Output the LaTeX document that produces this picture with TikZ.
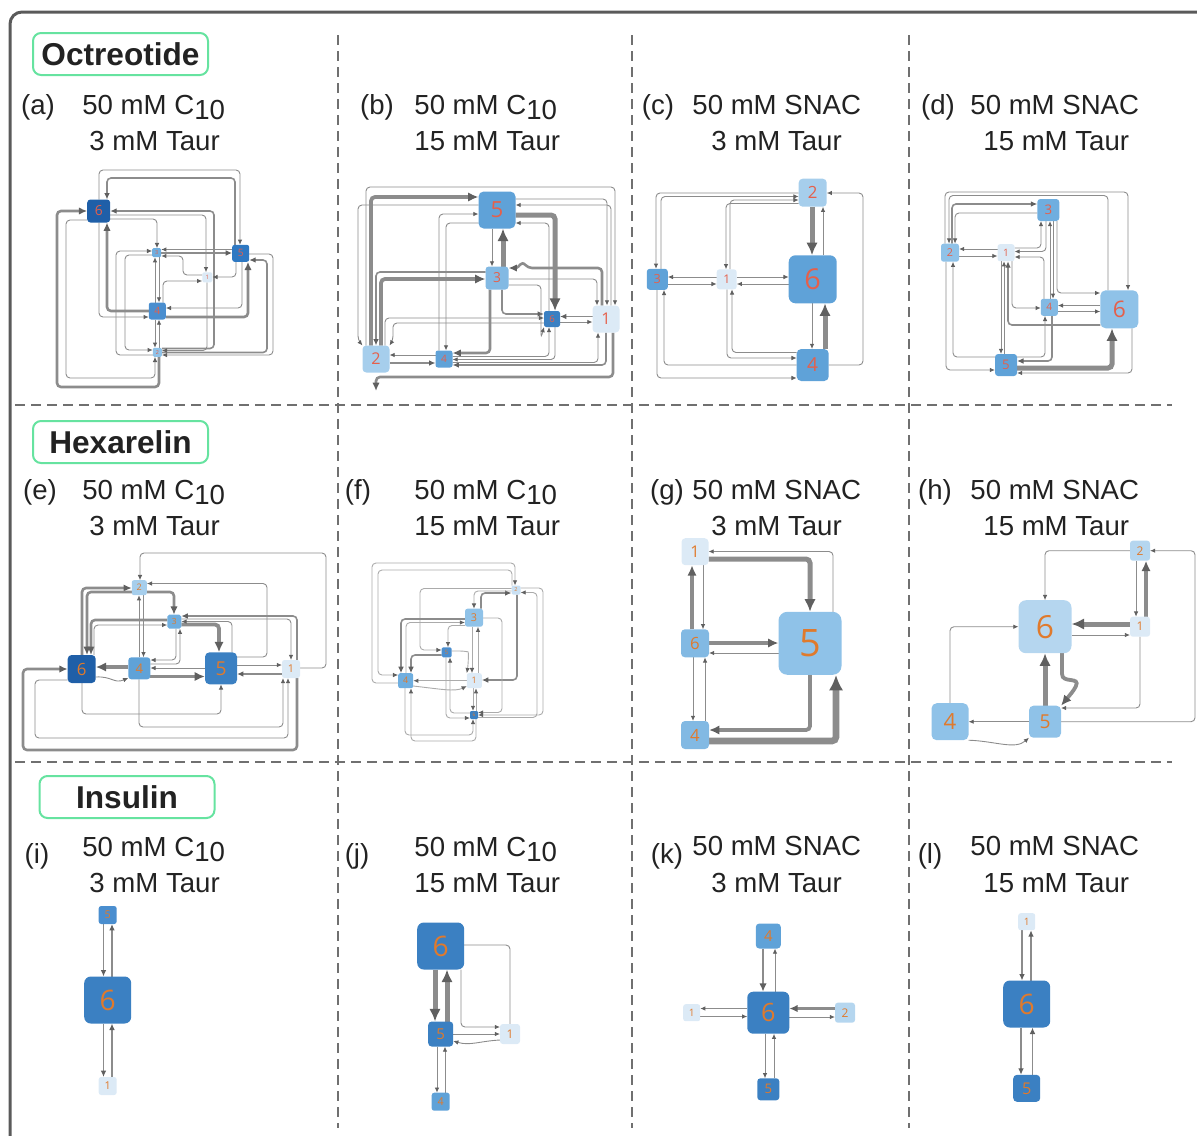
\documentclass[tikz,border=0pt]{standalone}
\usepackage{fontspec}
\setmainfont{Liberation Sans}
\newfontfamily\numfont{Open Sans}
\usetikzlibrary{arrows.meta,backgrounds}

% palette
\definecolor{framec}{HTML}{5A5A5A}
\definecolor{dashc}{HTML}{707070}
\definecolor{titlec}{HTML}{66E3A0}
\definecolor{txtc}{HTML}{222222}
\definecolor{linkc}{HTML}{8C8C8C}
\definecolor{linkl}{HTML}{ABABAB}
\definecolor{tipc}{HTML}{606060}
\definecolor{numa}{HTML}{E5604B}
\definecolor{numb}{HTML}{E07A2C}
\definecolor{bA}{HTML}{1F5FA8}
\definecolor{bB}{HTML}{2E78C2}
\definecolor{bC}{HTML}{3B80C2}
\definecolor{bD}{HTML}{4A8ECF}
\definecolor{bE}{HTML}{5FA2D8}
\definecolor{bF}{HTML}{6FAEDF}
\definecolor{bG}{HTML}{82B9E3}
\definecolor{bH}{HTML}{8FC2E8}
\definecolor{bI}{HTML}{A6CEEC}
\definecolor{bJ}{HTML}{B5D6EF}
\definecolor{bK}{HTML}{C9E0F3}
\definecolor{bL}{HTML}{DCEAF6}

\tikzset{
  tipshape/.style={-{Latex[length=1.8pt 1.8, width=1.5pt 1.7, color=tipc]}},
  ln/.style={draw=linkc, line width=#1, rounded corners=2, tipshape},
  ln1/.style={ln=0.45pt}, ln2/.style={ln=0.8pt}, ln3/.style={ln=1.3pt},
  ln4/.style={ln=1.9pt}, ln5/.style={ln=2.5pt}, ln6/.style={ln=3.3pt},
  lnf/.style={ln=0.45pt, draw=linkl},
  netbox/.style={inner sep=0pt, outer sep=0pt},
  pl/.style={font=\fontsize{13.8pt}{16pt}\selectfont, text=txtc, inner sep=0pt},
  ttl/.style={draw=titlec, line width=1pt, rounded corners=4pt, fill=white,
    minimum width=87.5pt, minimum height=21pt, text=txtc,
    font=\fontsize{15.8pt}{18pt}\selectfont\bfseries},
  dsh/.style={draw=dashc, line width=0.7pt, dash pattern=on 5pt off 3pt},
}

% state node: name, x, y, size (px), fill, digit colour, label
\newcommand\netnode[7]{%
  \pgfmathsetmacro\nnfs{#4*0.3}%
  \pgfmathsetmacro\nnrc{max(0.6,#4*0.07)}%
  \node[netbox, minimum size=#4*0.5pt, rounded corners=\nnrc pt, fill=#5, text=#6,
    font=\numfont\fontsize{\nnfs pt}{\nnfs pt}\selectfont] (#1) at (#2,#3) {#7};}

\begin{document}
\begin{tikzpicture}[x=0.5pt,y=-0.5pt]
\useasboundingbox (0,0) rectangle (1197,1135);

% ---------- frame and separators ----------
\begin{pgfonlayer}{background}
\draw[framec, line width=1.5pt, rounded corners=6pt] (10,1140) -- (10,12) -- (1197,12);
\draw[dsh] (338,35) -- (338,1128);
\draw[dsh] (632,35) -- (632,1128);
\draw[dsh] (909,35) -- (909,1128);
\draw[dsh] (15,405) -- (1172,405);
\draw[dsh] (15,762) -- (1172,762);
\end{pgfonlayer}

% ---------- peptide titles ----------
\node[ttl] (tOct) at (120.5,54) {Octreotide};
\node[ttl] (tHex) at (120.5,442) {Hexarelin};
\node[ttl] (tIns) at (127,797) {Insulin};

% ---------- condition labels ----------
\node[pl, anchor=base] (pa) at (38,114) {(a)};
\node[pl, anchor=base west] (pa1) at (82,114) {50 mM C\raisebox{-2.5pt}{10}};
\node[pl, anchor=base west] (pa2) at (89,150) {3 mM Taur};
\node[pl, anchor=base] (pb) at (377,114) {(b)};
\node[pl, anchor=base west] (pb1) at (414,114) {50 mM C\raisebox{-2.5pt}{10}};
\node[pl, anchor=base west] (pb2) at (414,150) {15 mM Taur};
\node[pl, anchor=base] (pc) at (658,114) {(c)};
\node[pl, anchor=base west] (pc1) at (692,114) {50 mM SNAC};
\node[pl, anchor=base west] (pc2) at (711,150) {3 mM Taur};
\node[pl, anchor=base] (pd) at (938,114) {(d)};
\node[pl, anchor=base west] (pd1) at (970,114) {50 mM SNAC};
\node[pl, anchor=base west] (pd2) at (983,150) {15 mM Taur};

\node[pl, anchor=base] (pe) at (40,499) {(e)};
\node[pl, anchor=base west] (pe1) at (82,499) {50 mM C\raisebox{-2.5pt}{10}};
\node[pl, anchor=base west] (pe2) at (89,535) {3 mM Taur};
\node[pl, anchor=base] (pf) at (358,499) {(f)};
\node[pl, anchor=base west] (pf1) at (414,499) {50 mM C\raisebox{-2.5pt}{10}};
\node[pl, anchor=base west] (pf2) at (414,535) {15 mM Taur};
\node[pl, anchor=base] (pg) at (667,499) {(g)};
\node[pl, anchor=base west] (pg1) at (692,499) {50 mM SNAC};
\node[pl, anchor=base west] (pg2) at (711,535) {3 mM Taur};
\node[pl, anchor=base] (ph) at (935,499) {(h)};
\node[pl, anchor=base west] (ph1) at (970,499) {50 mM SNAC};
\node[pl, anchor=base west] (ph2) at (983,535) {15 mM Taur};

\node[pl, anchor=base] (pi) at (37,863) {(i)};
\node[pl, anchor=base west] (pi1) at (82,856) {50 mM C\raisebox{-2.5pt}{10}};
\node[pl, anchor=base west] (pi2) at (89,892) {3 mM Taur};
\node[pl, anchor=base] (pj) at (357,863) {(j)};
\node[pl, anchor=base west] (pj1) at (414,856) {50 mM C\raisebox{-2.5pt}{10}};
\node[pl, anchor=base west] (pj2) at (414,892) {15 mM Taur};
\node[pl, anchor=base] (pk) at (667,863) {(k)};
\node[pl, anchor=base west] (pk1) at (692,855) {50 mM SNAC};
\node[pl, anchor=base west] (pk2) at (711,892) {3 mM Taur};
\node[pl, anchor=base] (pl) at (930,863) {(l)};
\node[pl, anchor=base west] (pl1) at (970,855) {50 mM SNAC};
\node[pl, anchor=base west] (pl2) at (983,892) {15 mM Taur};

% ---------- states ----------
% (a)
\netnode{a6}{98.7}{211}{23}{bA}{numa}{6}
\netnode{a5}{240.7}{253.3}{17}{bB}{numa}{5}
\netnode{a3}{156.7}{252.7}{9}{bF}{numa}{3}
\netnode{a1}{207.3}{277.3}{10}{bL}{numa}{1}
\netnode{a4}{157.3}{311}{17}{bD}{numa}{4}
\netnode{a2}{157.3}{352.3}{9}{bH}{numa}{2}
% (b)
\netnode{b5}{497}{210}{37}{bE}{numa}{5}
\netnode{b3}{497}{278}{23}{bG}{numa}{3}
\netnode{b6}{552}{319}{16}{bC}{numa}{6}
\netnode{b1}{606}{319}{27}{bL}{numa}{1}
\netnode{b2}{376}{359}{27}{bI}{numa}{2}
\netnode{b4}{444}{359}{17}{bE}{numa}{4}
% (c)
\netnode{c2}{812.7}{192.7}{28}{bI}{numa}{2}
\netnode{c6}{812.7}{279.3}{48}{bE}{numa}{6}
\netnode{c3}{657.3}{279.3}{21}{bE}{numa}{3}
\netnode{c1}{726.7}{279.3}{20}{bL}{numa}{1}
\netnode{c4}{812.7}{365}{32}{bE}{numa}{4}
% (d)
\netnode{d3}{1048.3}{210}{22}{bF}{numa}{3}
\netnode{d2}{950}{252.7}{18}{bH}{numa}{2}
\netnode{d1}{1006}{252.7}{17}{bL}{numa}{1}
\netnode{d4}{1049.3}{307.3}{17}{bG}{numa}{4}
\netnode{d6}{1119.3}{309.3}{38}{bH}{numa}{6}
\netnode{d5}{1006}{365}{22}{bE}{numa}{5}
% (e)
\netnode{e2}{139.3}{587.7}{15}{bI}{numb}{2}
\netnode{e3}{174.3}{621.7}{14}{bF}{numb}{3}
\netnode{e6}{81.7}{669}{28}{bA}{numb}{6}
\netnode{e4}{139.3}{668.3}{22}{bE}{numb}{4}
\netnode{e5}{221}{668.3}{32}{bC}{numb}{5}
\netnode{e1}{291}{669}{18}{bL}{numb}{1}
% (f)
\netnode{f2}{516}{590}{9}{bK}{numb}{2}
\netnode{f3}{474}{617.7}{18}{bH}{numb}{3}
\netnode{f5}{446.7}{652.3}{10}{bD}{numb}{5}
\netnode{f4}{405.7}{680.7}{15}{bF}{numb}{4}
\netnode{f1}{474.3}{680.7}{15}{bL}{numb}{1}
\netnode{f6}{474}{715}{8}{bC}{numb}{6}
% (g)
\netnode{g1}{695}{551.7}{27}{bL}{numb}{1}
\netnode{g6}{695}{643.3}{28}{bG}{numb}{6}
\netnode{g5}{810}{643.3}{63}{bH}{numb}{5}
\netnode{g4}{695}{735}{28}{bG}{numb}{4}
% (h)
\netnode{h2}{1140}{550.7}{20}{bJ}{numb}{2}
\netnode{h6}{1045}{626.7}{53}{bJ}{numb}{6}
\netnode{h1}{1140}{626.7}{20}{bL}{numb}{1}
\netnode{h4}{950}{721.7}{37}{bH}{numb}{4}
\netnode{h5}{1045}{721.7}{32}{bH}{numb}{5}
% (i)
\netnode{i5}{107.7}{915}{18}{bD}{numb}{5}
\netnode{i6}{107.7}{1000}{47}{bC}{numb}{6}
\netnode{i1}{107.7}{1086}{18}{bL}{numb}{1}
% (j)
\netnode{j6}{440.7}{946}{47}{bC}{numb}{6}
\netnode{j5}{440.7}{1034}{25}{bC}{numb}{5}
\netnode{j1}{510}{1034}{20}{bL}{numb}{1}
\netnode{j4}{440.7}{1101.7}{18}{bE}{numb}{4}
% (k)
\netnode{k4}{768.3}{936}{25}{bE}{numb}{4}
\netnode{k6}{768.3}{1012.7}{42}{bC}{numb}{6}
\netnode{k1}{691.7}{1012.7}{17}{bL}{numb}{1}
\netnode{k2}{845}{1012.7}{20}{bJ}{numb}{2}
\netnode{k5}{768.3}{1089.3}{22}{bC}{numb}{5}
% (l)
\netnode{l1}{1026.7}{921.7}{17}{bL}{numb}{1}
\netnode{l6}{1026.7}{1004}{47}{bC}{numb}{6}
\netnode{l5}{1026.7}{1088.3}{27}{bC}{numb}{5}

\coordinate (bloose) at (376,391);

% ---------- transitions ----------
\begin{pgfonlayer}{background}
% (a)
\draw[ln1] (a6.north -| 99,0) -- (99,170) -- (240,170) -- (a5.north -| 240,0);
\draw[ln2] (a5.north -| 235,0) -- (235,178) -- (107,178) -- (a6.north -| 107,0);
\draw[ln2] (a2.east |- 0,348.5) -- (214,348.5) -- (214,211) -- (a6.east |- 0,211);
\draw[ln1] (a6.east |- 0,219) -- (157,219) -- (a3.north -| 157,0);
\draw[ln1] (a6.east |- 0,215) -- (206,215) -- (a1.north -| 206,0);
\draw[ln3] (a4.west |- 0,311) -- (107,311) -- (a6.south -| 107,0);
\draw[ln1] (a6.south -| 99,0) -- (99,317) -- (a4.west |- 0,317);
\draw[ln1] (a6.west |- 0,220) -- (66,220) -- (66,378) -- (155,378) -- (a2.south -| 155,0);
\draw[ln3] (a2.south -| 159,0) -- (159,387) -- (57,387) -- (57,211) -- (a6.west |- 0,211);
\draw[ln2] (a3.east |- 0,253) -- (a5.west |- 0,253);
\draw[ln1] (a5.west |- 0,249.5) -- (a3.east |- 0,249.5);
\draw[ln1] (a1.west |- 0,275) -- (183,275) -- (183,256) -- (a3.east |- 0,256);
\draw[ln1] (a5.south -| 236,0) -- (236,277) -- (a1.east |- 0,277);
\draw[ln1] (a4.north -| 163,0) -- (163,281) -- (a1.west |- 0,281);
\draw[ln3] (a4.east |- 0,317) -- (248,317) -- (a5.south -| 248,0);
\draw[ln1] (a5.south -| 242,0) -- (242,308) -- (a4.east |- 0,308);
\draw[ln1] (a4.north -| 155,0) -- (a3.south -| 155,0);
\draw[ln1] (a3.south -| 159,0) -- (a4.north -| 159,0);
\draw[ln1] (a4.south -| 155,0) -- (a2.north -| 155,0);
\draw[ln1] (a2.north -| 159,0) -- (a4.south -| 159,0);
\draw[ln1] (a2.west |- 0,355) -- (116,355) -- (116,251) -- (a3.west |- 0,251);
\draw[ln1] (a3.west |- 0,255) -- (125,255) -- (125,350) -- (a2.west |- 0,350);
\draw[ln1] (a5.east |- 0,254) -- (273,254) -- (273,355) -- (a2.east |- 0,355);
\draw[ln2] (a2.east |- 0,352.5) -- (267,352.5) -- (267,260) -- (a5.east |- 0,260);
\draw[ln1] (a1.south -| 207,0) -- (207,350.5) -- (a2.east |- 0,350.5);

% (b)
\draw[ln1] (b2.north -| 366,0) -- (366,187) -- (615,187) -- (b1.north -| 615,0);
\draw[ln4] (b2.north -| 371,0) -- (371,197) -- (b5.west |- 0,197);
\draw[ln1] (b5.west |- 0,205) -- (358,205) -- (358,340) -- (b2.north west);
\draw[ln1] (b5.east |- 0,199) -- (607,199) -- (b1.north -| 607,0);
\draw[ln1] (b1.north -| 611,0) -- (611,205) -- (b5.east |- 0,205);
\draw[ln5] (b5.east |- 0,215) -- (555,215) -- (b6.north -| 555,0);
\draw[ln1] (b6.north -| 549,0) -- (549,223) -- (b5.east |- 0,223);
\draw[ln1] (b4.north -| 439,0) -- (439,214) -- (b5.west |- 0,214);
\draw[ln1] (b5.west |- 0,223) -- (446,223) -- (b4.north -| 446,0);
\draw[ln1] (b5.south -| 492,0) -- (b3.north -| 492,0);
\draw[ln5] (b3.north -| 503,0) -- (b5.south -| 503,0);
\draw[ln2] (b3.west |- 0,272) -- (376,272) -- (b2.north -| 376,0);
\draw[ln4] (b2.north -| 381,0) -- (381,279) -- (b3.west |- 0,279);
\draw[ln3] (b3.south -| 490,0) -- (490,353) -- (b4.east |- 0,353);
\draw[ln2] (b3.south -| 502,0) -- (502,314) -- (b6.west |- 0,314);
\draw[ln1] (b3.east |- 0,285) -- (541,285) -- (541,338) -- (b6.south west);
\draw[ln1] (b4.east |- 0,356.5) -- (549,356.5) -- (b6.south -| 549,0);
\draw[ln1] (b6.south -| 555,0) -- (555,359.5) -- (b4.east |- 0,359.5);
\draw[ln2] (b1.south -| 606,0) -- (606,365) -- (b4.east |- 0,365);
\draw[ln1] (b4.east |- 0,362.5) -- (598,362.5) -- (b1.south -| 598,0);
\draw[ln1] (b3.east |- 0,279) -- (597,279) -- (b1.north -| 597,0);
\draw[ln3] (b1.north -| 602,0) -- (602,268) -- (528,268) .. controls (521,260) and (519,268) .. (b3.east |- 0,268);
\draw[ln2] (b1.west |- 0,316.5) -- (b6.east |- 0,316.5);
\draw[ln1] (b6.east |- 0,322) -- (b1.west |- 0,322);
\draw[ln1] (b2.north -| 385,0) -- (385,318) -- (b6.west |- 0,318);
\draw[ln1] (b6.west |- 0,323) -- (393,323) -- (393,340) -- (b2.north east);
\draw[ln1] (b4.west |- 0,355) -- (b2.east |- 0,355);
\draw[ln2] (b2.east |- 0,363) -- (b4.west |- 0,363);
\draw[ln3] (b1.south -| 613,0) -- (613,377) -- (376,377) -- (bloose);

% (c)
\draw[ln5] (c2.south -| 812,0) -- (c6.north -| 812,0);
\draw[ln1] (c6.north -| 823,0) -- (c2.south -| 823,0);
\draw[ln1] (c6.south -| 812,0) -- (c4.north -| 812,0);
\draw[ln5] (c4.north -| 825,0) -- (c6.south -| 825,0);
\draw[ln1] (c4.east |- 0,365) -- (863,365) -- (863,193) -- (c2.east |- 0,193);
\draw[ln1] (c2.west |- 0,193) -- (656,193) -- (c3.north -| 656,0);
\draw[ln1] (c3.north -| 661,0) -- (661,196.5) -- (c2.west |- 0,196.5);
\draw[ln1] (c1.north -| 730,0) -- (730,200) -- (c2.west |- 0,200);
\draw[ln1] (c2.west |- 0,203.5) -- (726,203.5) -- (c1.north -| 726,0);
\draw[ln1] (c1.west |- 0,277) -- (c3.east |- 0,277);
\draw[ln1] (c3.east |- 0,284) -- (c1.west |- 0,284);
\draw[ln1] (c1.east |- 0,277) -- (c6.west |- 0,277);
\draw[ln1] (c6.west |- 0,284) -- (c1.east |- 0,284);
\draw[ln1] (c4.west |- 0,352.5) -- (732,352.5) -- (c1.south -| 732,0);
\draw[ln1] (c1.south -| 727,0) -- (727,358) -- (c4.west |- 0,358);
\draw[ln1] (c4.west |- 0,365) -- (664,365) -- (c3.south -| 664,0);
\draw[ln1] (c3.south -| 657,0) -- (657,378) -- (c4.west |- 0,378);

% (d)
\draw[ln1] (d2.north -| 945,0) -- (945,192) -- (1128,192) -- (d6.north -| 1128,0);
\draw[ln1] (d6.north -| 1108,0) -- (1108,195.5) -- (949,195.5) -- (d2.north -| 949,0);
\draw[ln2] (d2.north -| 952,0) -- (952,204) -- (d3.west |- 0,204);
\draw[ln1] (d3.west |- 0,213) -- (955,213) -- (d2.north -| 955,0);
\draw[ln1] (d1.west |- 0,249) -- (d2.east |- 0,249);
\draw[ln1] (d2.east |- 0,256) -- (d1.west |- 0,256);
\draw[ln1] (d1.east |- 0,248) -- (1041,248) -- (d3.south -| 1041,0);
\draw[ln1] (d3.south -| 1046,0) -- (1046,251.5) -- (d1.east |- 0,251.5);
\draw[ln1] (d4.north -| 1044,0) -- (1044,257) -- (d1.east |- 0,257);
\draw[ln1] (d3.south -| 1053,0) -- (d4.north -| 1053,0);
\draw[ln1] (d4.north -| 1050,0) -- (d3.south -| 1050,0);
\draw[ln1] (d3.south -| 1057,0) -- (1057,293) -- (d6.west |- 0,293);
\draw[ln1] (d6.west |- 0,305.5) -- (d4.east |- 0,305.5);
\draw[ln1] (d4.east |- 0,311.5) -- (d6.west |- 0,311.5);
\draw[ln1] (d1.south -| 1012,0) -- (1012,308) -- (d4.west |- 0,308);
\draw[ln2] (d6.west |- 0,325) -- (1008,325) -- (d1.south -| 1008,0);
\draw[ln1] (d1.south -| 1001,0) -- (d5.north -| 1001,0);
\draw[ln1] (d5.north -| 1004,0) -- (d1.south -| 1004,0);
\draw[ln1] (d5.west |- 0,357) -- (953,357) -- (d2.south -| 953,0);
\draw[ln1] (d2.south -| 946,0) -- (946,370) -- (d5.west |- 0,370);
\draw[ln1] (d5.east |- 0,357) -- (1045,357) -- (d4.south -| 1045,0);
\draw[ln2] (d4.south -| 1052,0) -- (1052,361) -- (d5.east |- 0,361);
\draw[ln5] (d5.east |- 0,368) -- (1112,368) -- (d6.south -| 1112,0);
\draw[ln1] (d6.south -| 1132,0) -- (1132,373) -- (d5.east |- 0,373);

% (e)
\draw[ln1] (e1.east |- 0,668) -- (326,668) -- (326,553) -- (140,553) -- (e2.north -| 140,0);
\draw[ln1] (e5.east |- 0,657) -- (267,657) -- (267,583.5) -- (e2.east |- 0,583.5);
\draw[ln3] (e2.east |- 0,592) -- (174,592) -- (e3.north -| 174,0);
\draw[ln1] (e3.south -| 176,0) -- (176,660) -- (e4.east |- 0,660);
\draw[ln1] (e4.east |- 0,664) -- (180,664) -- (e3.south -| 180,0);
\draw[ln3] (e6.north -| 82,0) -- (82,588) -- (e2.west |- 0,588);
\draw[ln3] (e2.west |- 0,592) -- (87,592) -- (e6.north -| 87,0);
\draw[ln3] (e3.west |- 0,620) -- (91,620) -- (e6.north -| 91,0);
\draw[ln1] (e6.north -| 94,0) -- (94,625) -- (e3.west |- 0,625);
\draw[ln1] (e2.south -| 143.5,0) -- (e4.north -| 143.5,0);
\draw[ln1] (e4.north -| 139,0) -- (e2.south -| 139,0);
\draw[ln4] (e3.east |- 0,624.5) -- (219,624.5) -- (e5.north -| 219,0);
\draw[ln1] (e5.north -| 232,0) -- (232,621.5) -- (e3.east |- 0,621.5);
\draw[ln2] (e1.north -| 297,0) -- (297,616) -- (e3.east |- 0,616);
\draw[ln1] (e3.east |- 0,619) -- (291,619) -- (e1.north -| 291,0);
\draw[ln4] (e4.east |- 0,676.5) -- (e5.west |- 0,676.5);
\draw[ln1] (e5.west |- 0,668) -- (e4.east |- 0,668);
\draw[ln4] (e4.west |- 0,667) -- (e6.east |- 0,667);
\draw[ln1] (e6.east |- 0,677) .. controls (112,676) and (114,684) .. (e4.west |- 0,678);
\draw[ln1] (e5.east |- 0,665) -- (e1.west |- 0,665);
\draw[ln2] (e1.west |- 0,674) -- (e5.east |- 0,674);
\draw[ln1] (e6.south -| 82,0) -- (82,714) -- (221,714) -- (e5.south -| 221,0);
\draw[ln1] (e4.south -| 139,0) -- (139,727) -- (283,727) -- (e1.south -| 283,0);
\draw[ln1] (e6.west |- 0,680) -- (35,680) -- (35,738) -- (288,738) -- (e1.south -| 288,0);
\draw[ln3] (e1.south -| 297,0) -- (297,750) -- (23,750) -- (23,669) -- (e6.west |- 0,669);

% (f)
\draw[lnf] (f4.west |- 0,683) -- (372,683) -- (372,563) -- (515,563) -- (f2.north -| 515,0);
\draw[lnf] (f2.north -| 512,0) -- (512,570) -- (378,570) -- (378,675) -- (f4.west |- 0,675);
\draw[ln2] (f2.south -| 517,0) -- (517,680) -- (f1.east |- 0,680);
\draw[lnf] (f2.east |- 0,588) -- (543,588) -- (543,715) -- (f6.east |- 0,715);
\draw[lnf] (f6.east |- 0,717.5) -- (537,717.5) -- (537,592.5) -- (f2.east |- 0,592.5);
\draw[ln2] (f3.north -| 481,0) -- (481,593) -- (f2.west |- 0,593);
\draw[lnf] (f2.west |- 0,588.5) -- (420,588.5) -- (420,650) -- (f5.west |- 0,650);
\draw[lnf] (f2.west |- 0,591) -- (474,591) -- (f3.north -| 474,0);
\draw[ln2] (f3.west |- 0,619) -- (401,619) -- (f4.north -| 401,0);
\draw[lnf] (f4.north -| 406,0) -- (406,622.5) -- (f3.west |- 0,622.5);
\draw[lnf] (f3.west |- 0,625.5) -- (448,625.5) -- (f5.north -| 448,0);
\draw[lnf] (f3.east |- 0,618) -- (502,618) -- (502,712.5) -- (f6.east |- 0,712.5);
\draw[lnf] (f1.north -| 478,0) -- (f3.south -| 478,0);
\draw[lnf] (f3.south -| 472,0) -- (f1.north -| 472,0);
\draw[ln2] (f5.west |- 0,655) -- (411,655) -- (f4.north -| 411,0);
\draw[lnf] (f5.east |- 0,651) -- (464,651) .. controls (469,652) and (468,666) .. (f1.north west);
\draw[lnf] (f1.west |- 0,680.7) -- (f4.east |- 0,680.7);
\draw[lnf] (f4.east |- 0,686) .. controls (440,689) and (455,692) .. (f1.west |- 0,686);
\draw[lnf] (f4.south -| 405,0) -- (405,735) -- (473,735) -- (f6.south -| 473,0);
\draw[lnf] (f6.south -| 476,0) -- (476,741) -- (411,741) -- (f4.south -| 411,0);
\draw[lnf] (f1.south -| 473,0) -- (f6.north -| 473,0);
\draw[lnf] (f6.north -| 476,0) -- (f1.south -| 476,0);
\draw[lnf] (f5.south -| 446,0) -- (446,718) -- (f6.west |- 0,718);
\draw[lnf] (f6.west |- 0,713) -- (450,713) -- (f5.south -| 450,0);

% (g)
\draw[ln1] (g5.north -| 833,0) -- (833,551.5) -- (g1.east |- 0,551.5);
\draw[ln5] (g1.east |- 0,559) -- (810,559) -- (g5.north -| 810,0);
\draw[ln4] (g6.north -| 692,0) -- (g1.south -| 692,0);
\draw[ln1] (g1.south -| 703,0) -- (g6.north -| 703,0);
\draw[ln4] (g6.east |- 0,643) -- (g5.west |- 0,643);
\draw[ln1] (g5.west |- 0,653) -- (g6.east |- 0,653);
\draw[ln1] (g6.south -| 693,0) -- (g4.north -| 693,0);
\draw[ln1] (g4.north -| 705,0) -- (g6.south -| 705,0);
\draw[ln4] (g5.south -| 810,0) -- (810,730) -- (g4.east |- 0,730);
\draw[ln6] (g4.east |- 0,741) -- (836,741) -- (g5.south -| 836,0);

% (h)
\draw[ln1] (h2.west |- 0,550.7) -- (1045,550.7) -- (h6.north -| 1045,0);
\draw[ln1] (h2.south -| 1136,0) -- (h1.north -| 1136,0);
\draw[ln4] (h1.north -| 1146,0) -- (h2.south -| 1146,0);
\draw[ln5] (h1.west |- 0,624) -- (h6.east |- 0,624);
\draw[ln1] (h6.east |- 0,635) -- (h1.west |- 0,635);
\draw[ln1] (h4.north -| 950,0) -- (950,626.7) -- (h6.west |- 0,626.7);
\draw[ln5] (h5.north -| 1045,0) -- (h6.south -| 1045,0);
\draw[ln4] (h6.south -| 1062,0) -- (1062,670) .. controls (1062,684) and (1081,676) .. (1074,690) -- (h5.north east);
\draw[ln1] (h1.south -| 1140,0) -- (1140,708) -- (h5.east |- 0,708);
\draw[ln1] (h5.east |- 0,721.7) -- (1195,721.7) -- (1195,550.7) -- (h2.east |- 0,550.7);
\draw[ln1] (h5.west |- 0,721.7) -- (h4.east |- 0,721.7);
\draw[ln1] (h4.south east) .. controls (995,741) and (1015,750) .. (h5.south west);

% (i)
\draw[ln2] (i5.south -| 103.5,0) -- (i6.north -| 103.5,0);
\draw[ln2] (i6.north -| 112,0) -- (i5.south -| 112,0);
\draw[ln2] (i6.south -| 103.5,0) -- (i1.north -| 103.5,0);
\draw[ln2] (i1.north -| 112,0) -- (i6.south -| 112,0);

% (j)
\draw[ln5] (j6.south -| 435,0) -- (j5.north -| 435,0);
\draw[ln5] (j5.north -| 447,0) -- (j6.south -| 447,0);
\draw[ln1, -] (j6.east |- 0,945) -- (510,945) -- (j1.north -| 510,0);
\draw[ln1] (j6.south -| 461,0) -- (461,1027) -- (j1.west |- 0,1027);
\draw[ln1] (j5.east |- 0,1034) -- (j1.west |- 0,1034);
\draw[ln1] (j1.west |- 0,1040) .. controls (480,1041) and (470,1046) .. (j5.east |- 0,1041);
\draw[ln1] (j5.south -| 437,0) -- (j4.north -| 437,0);
\draw[ln1] (j4.north -| 445,0) -- (j5.south -| 445,0);

% (k)
\draw[ln3] (k4.south -| 763,0) -- (k6.north -| 763,0);
\draw[ln1] (k6.north -| 775,0) -- (k4.south -| 775,0);
\draw[ln1] (k6.west |- 0,1008.5) -- (k1.east |- 0,1008.5);
\draw[ln1] (k1.east |- 0,1016.5) -- (k6.west |- 0,1016.5);
\draw[ln3] (k2.west |- 0,1008.5) -- (k6.east |- 0,1008.5);
\draw[ln1] (k6.east |- 0,1017) -- (k2.west |- 0,1017);
\draw[ln1] (k6.south -| 765,0) -- (k5.north -| 765,0);
\draw[ln1] (k5.north -| 774,0) -- (k6.south -| 774,0);

% (l)
\draw[ln2] (l1.south -| 1022,0) -- (l6.north -| 1022,0);
\draw[ln2] (l6.north -| 1031,0) -- (l1.south -| 1031,0);
\draw[ln2] (l6.south -| 1021,0) -- (l5.north -| 1021,0);
\draw[ln2] (l5.north -| 1032.5,0) -- (l6.south -| 1032.5,0);
\end{pgfonlayer}
\end{tikzpicture}
\end{document}
